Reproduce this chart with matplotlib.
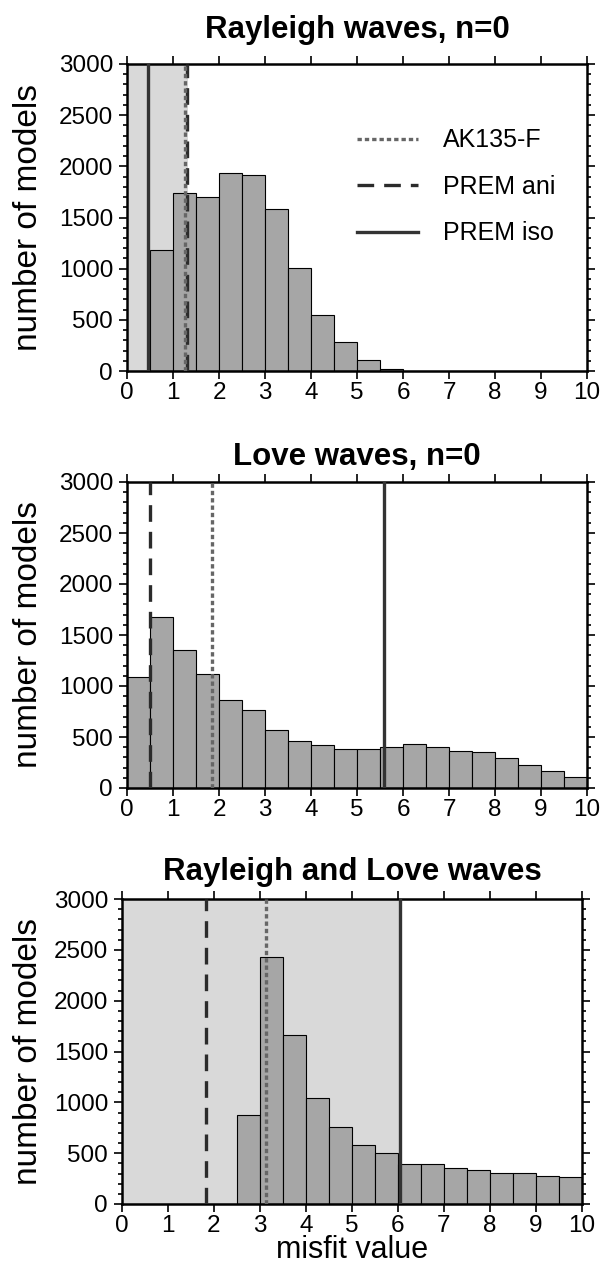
import matplotlib as mlp
mlp.use('Agg')
from matplotlib import pyplot as plt
from matplotlib.ticker import MultipleLocator
import numpy as np

plt.rcParams['font.family'] = ['Liberation Sans', 'DejaVu Sans']

# histogram bins: 0 to 10, width 0.5
edges = np.arange(0, 10.01, 0.5)

titles = ['Rayleigh waves, n=0', 'Love waves, n=0', 'Rayleigh and Love waves']

counts_rayleigh = [0, 1180, 1740, 1705, 1930, 1915, 1580, 1005, 545, 285,
                   108, 20, 0, 0, 0, 0, 0, 0, 0, 0]
counts_love = [1090, 1675, 1355, 1120, 865, 760, 570, 462, 425, 378,
               382, 402, 432, 402, 366, 356, 292, 230, 168, 112]
counts_both = [0, 0, 0, 0, 0, 872, 2425, 1660, 1040, 762,
               578, 505, 398, 398, 352, 332, 308, 308, 280, 270]

# misfit of the reference models in each panel
ak135 = [1.27, 1.84, 3.13]
prem_ani = [1.30, 0.50, 1.82]
prem_iso = [0.45, 5.59, 6.05]
# grey shaded interval (None = no shading)
shade_end = [1.33, None, 6.05]

all_counts = [counts_rayleigh, counts_love, counts_both]

W, H = 604, 1271
fig = plt.figure(figsize=(W / 100, H / 100), dpi=100)

# panel boxes in pixels: left, right, top, bottom
boxes = [(127, 587, 64, 371), (127, 587, 482, 788), (122, 582, 899, 1204)]
title_base = [38, 465, 880]

for i in range(3):
    l, r, t, b = boxes[i]
    ax = fig.add_axes([l / W, (H - b) / H, (r - l) / W, (b - t) / H])
    if shade_end[i] is not None:
        ax.axvspan(0, shade_end[i], color='#d9d9d9', zorder=0, lw=0)
    ax.bar(edges[:-1], all_counts[i], width=0.5, align='edge',
           color='#a6a6a6', edgecolor='black', linewidth=0.8, zorder=1)
    ax.axvline(prem_iso[i], color='#333333', lw=2.4, zorder=3,
               label='PREM iso')
    ax.axvline(prem_ani[i], color='#2b2b2b', lw=2.4, dashes=(5, 3),
               zorder=3, label='PREM ani')
    ax.axvline(ak135[i], color='#666666', lw=2.4, dashes=(1.3, 0.9),
               zorder=4, label='AK135-F')

    ax.set_xlim(0, 10)
    ax.set_ylim(0, 3000)
    ax.xaxis.set_major_locator(MultipleLocator(1))
    ax.yaxis.set_major_locator(MultipleLocator(500))
    ax.yaxis.set_minor_locator(MultipleLocator(100))
    ax.tick_params(which='both', direction='out', top=True, right=True,
                   width=1.2, labelsize=17.5)
    ax.tick_params(which='major', length=6, pad=2)
    ax.tick_params(axis='y', which='major', pad=4)
    ax.tick_params(which='minor', length=3)
    for s in ax.spines.values():
        s.set_linewidth(1.8)
    ax.set_title(titles[i], fontsize=22.5, fontweight='bold',
                 y=1 + (t - title_base[i]) / (b - t), pad=0)

    fig.text(29 / W, (H - (t + b) / 2) / H, 'number of models',
             rotation=90, ha='center', va='center', fontsize=24)

    if i == 0:
        h, lab = ax.get_legend_handles_labels()
        ax.legend(h[::-1], lab[::-1], loc='upper left',
                  bbox_to_anchor=(0.5, 0.79), frameon=False, fontsize=18,
                  handlelength=2.45, handletextpad=1.0, labelspacing=0.9,
                  borderpad=0, borderaxespad=0)

fig.text(352 / W, (H - 1250) / H, 'misfit value', ha='center', va='center',
         fontsize=22)

plt.savefig('out.png', dpi=100)
